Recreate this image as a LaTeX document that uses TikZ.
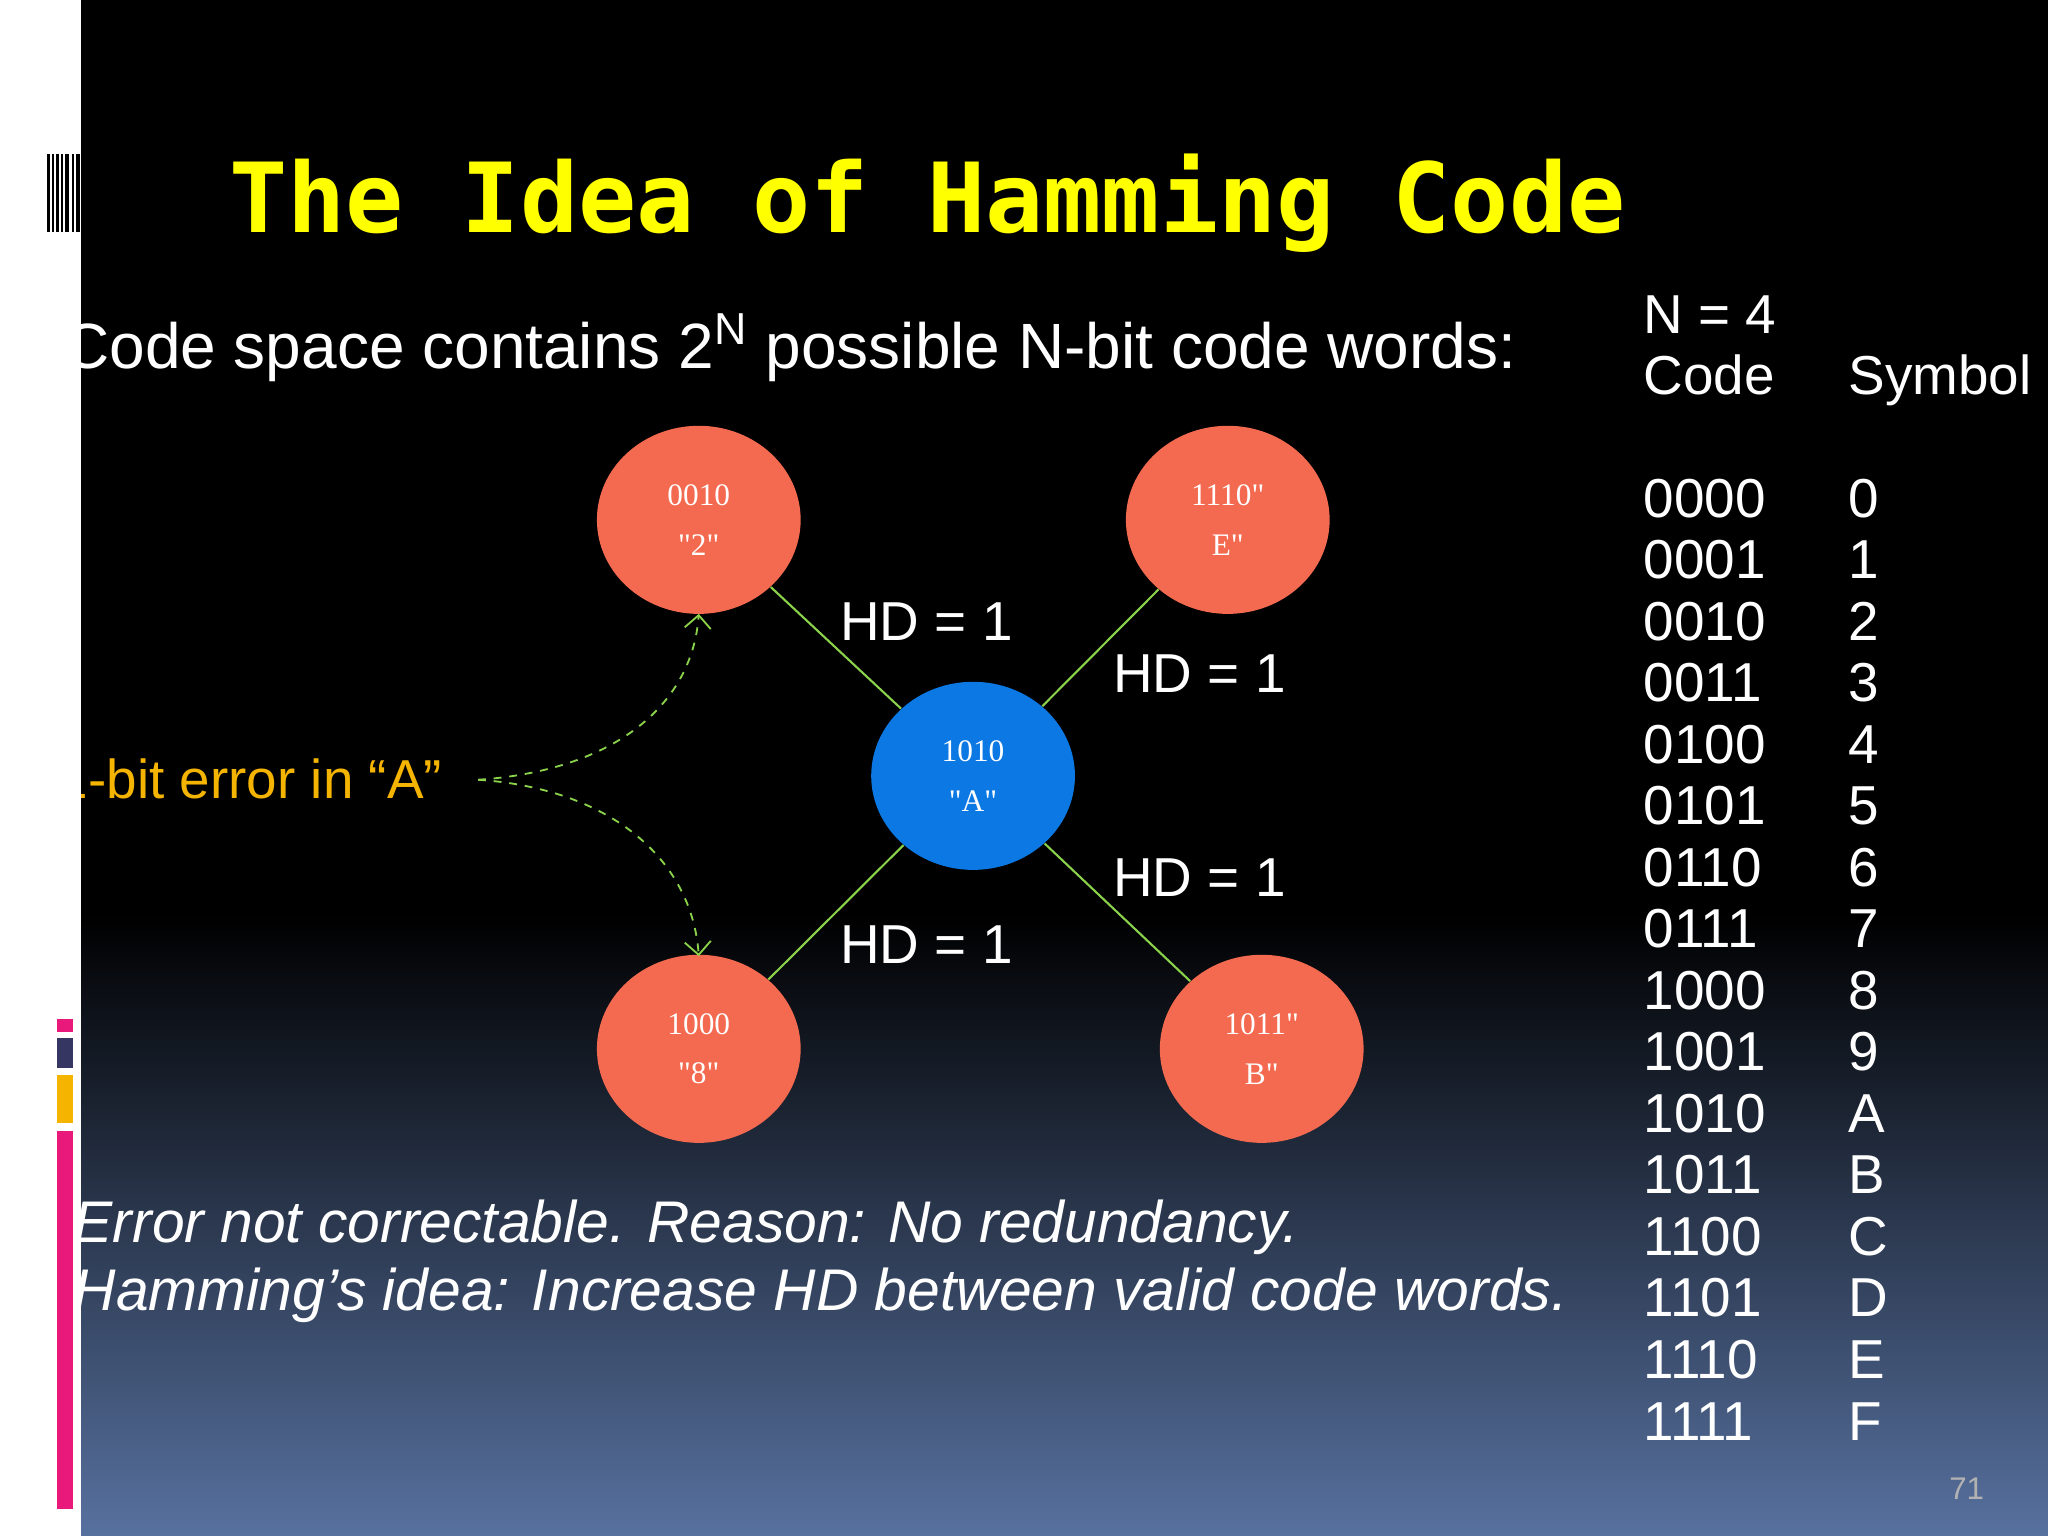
\documentclass[tikz,border=0pt]{standalone}
\usepackage{fontspec}
\setmainfont{Liberation Sans}
\newfontfamily\monob{DejaVu Sans Mono}
\newfontfamily\circfont{Liberation Serif}
\usetikzlibrary{arrows.meta}
\definecolor{tomatoc}{HTML}{F46A50}
\definecolor{bluec}{HTML}{0B78E3}
\definecolor{greenc}{HTML}{8BD34A}
\definecolor{orangec}{HTML}{F5B400}
\definecolor{titlec}{HTML}{FFFF00}
\definecolor{botc}{HTML}{57719F}
\definecolor{pinkc}{HTML}{E8197A}
\begin{document}
\begin{tikzpicture}[x=0.5pt,y=-0.5pt,
  cw/.style={ellipse,minimum width=156*0.5pt,minimum height=144*0.5pt,fill=tomatoc,text=white,align=center,font=\circfont\fontsize{12}{17}\selectfont,inner sep=0pt},
  hd/.style={text=white,font=\fontsize{21}{24}\selectfont,anchor=base west,inner sep=0pt},
  tb/.style={text=white,font=\fontsize{21}{24}\selectfont,anchor=base west,inner sep=0pt},
  link/.style={greenc,line width=0.8pt},
  err/.style={greenc,dashed,line width=0.7pt,-{Straight Barb[length=5pt]}}]
\usetikzlibrary{shapes.geometric}
\useasboundingbox (0,0) rectangle (1568,1176);
\fill[black] (0,0) rectangle (1568,700);
\shade[top color=black,bottom color=botc] (0,700) rectangle (1568,1176);
% title
\node[anchor=base west,inner sep=0pt,text=titlec,font=\monob\bfseries\fontsize{37}{40}\selectfont] (title) at (175,178) {The Idea of Hamming Code};
\node[anchor=base west,inner sep=0pt,text=white,font=\fontsize{24.5}{28}\selectfont] (cs) at (48,282) {Code space contains 2\textsuperscript{N} possible N-bit code words:};
% nodes
\node[cw] (n2) at (535,398) {0010\\[2pt]"2"};
\node[cw] (nE) at (940,398) {1110"\\[2pt]E"};
\node[cw,fill=bluec] (nA) at (745,594) {1010\\[2pt]"A"};
\node[cw] (n8) at (535,803) {1000\\[2pt]"8"};
\node[cw] (nB) at (966,803) {1011"\\[2pt]B"};
\draw[link] (nA) -- (n2);
\draw[link] (nA) -- (nE);
\draw[link] (nA) -- (n8);
\draw[link] (nA) -- (nB);
\node[hd] (h1) at (643,490) {HD = 1};
\node[hd] (h2) at (852,530) {HD = 1};
\node[hd] (h3) at (852,686) {HD = 1};
\node[hd] (h4) at (643,738) {HD = 1};
\node[anchor=base west,inner sep=0pt,text=orangec,font=\fontsize{21}{24}\selectfont] (err) at (44,611) {1-bit error in “A”};
\coordinate (es) at (366,597);
\draw[err] (es) .. controls (470,590) and (530,540) .. (535,470);
\draw[err] (es) .. controls (470,604) and (530,660) .. (535,732);
% table
\node[tb] (n4) at (1258,255) {N = 4};
\node[tb] (code) at (1258,302) {Code};
\node[tb] (sym) at (1415,302) {Symbol};
\foreach \c/\s [count=\i from 0] in {0000/0,0001/1,0010/2,0011/3,0100/4,0101/5,0110/6,0111/7,1000/8,1001/9,1010/A,1011/B,1100/C,1101/D,1110/E,1111/F}{
  \node[tb] (c\i) at (1258,{396+47.1*\i}) {\c};
  \node[tb] (s\i) at (1415,{396+47.1*\i}) {\s};
}
\node[anchor=base west,inner sep=0pt,text=white,font=\itshape\fontsize{22.5}{26}\selectfont] (l1) at (56,951) {Error not correctable. Reason: No redundancy.};
\node[anchor=base west,inner sep=0pt,text=white,font=\itshape\fontsize{22.5}{26}\selectfont] (l2) at (56,1003) {Hamming’s idea: Increase HD between valid code words.};
\node[anchor=base west,inner sep=0pt,text=gray!60,font=\fontsize{12}{14}\selectfont] (pg) at (1492,1148) {71};
% left strip
\fill[white] (0,0) rectangle (62,1176);
\foreach \x/\w in {36/2,40/1.5,43/2,47/1,50/3,55/1.5,58/3}{\fill[black] (\x,118) rectangle ++(\w,60);}
\fill[pinkc] (44,780) rectangle (56,790);
\fill[gray!70!blue!60!black] (44,795) rectangle (56,818);
\fill[orangec] (44,823) rectangle (56,860);
\fill[pinkc] (44,866) rectangle (56,1155);
\end{tikzpicture}
\end{document}
